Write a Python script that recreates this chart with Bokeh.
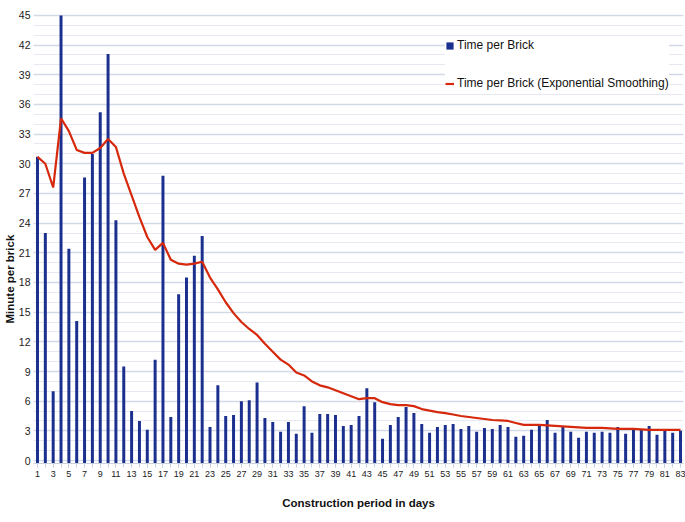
from bokeh.plotting import figure
from bokeh.models import FixedTicker, Range1d, Legend, LegendItem, ColumnDataSource, Title
from bokeh.embed import file_html
from bokeh.resources import INLINE

days = list(range(1, 84))
time_per_brick = [
    30.7, 23.0, 7.0, 45.0, 21.4, 14.1, 28.6, 31.0, 35.2, 41.1,
    24.3, 9.5, 5.0, 4.0, 3.1, 10.2, 28.8, 4.4, 16.8, 18.5,
    20.7, 22.7, 3.4, 7.6, 4.5, 4.6, 6.0, 6.1, 7.9, 4.3,
    3.9, 2.9, 3.9, 2.7, 5.5, 2.8, 4.7, 4.7, 4.6, 3.5,
    3.6, 4.5, 7.3, 5.9, 2.2, 3.6, 4.4, 5.4, 4.8, 3.7,
    2.8, 3.4, 3.6, 3.7, 3.2, 3.5, 2.9, 3.3, 3.2, 3.6,
    3.4, 2.4, 2.5, 3.1, 3.5, 4.1, 2.8, 3.5, 2.9, 2.3,
    2.9, 2.8, 2.9, 2.8, 3.4, 2.7, 3.1, 3.1, 3.5, 2.6,
    3.1, 2.8, 3.0,
]
smoothed = [
    30.7, 30.0, 27.6, 34.6, 33.3, 31.4, 31.1, 31.1, 31.6, 32.5,
    31.7, 29.0, 26.8, 24.6, 22.6, 21.3, 22.0, 20.3, 19.9, 19.8,
    19.9, 20.1, 18.5, 17.3, 16.0, 14.9, 14.0, 13.3, 12.7, 11.8,
    11.0, 10.2, 9.7, 8.9, 8.6, 8.0, 7.6, 7.4, 7.1, 6.8,
    6.5, 6.2, 6.3, 6.3, 5.9, 5.7, 5.6, 5.6, 5.5, 5.2,
    5.05, 4.9, 4.8, 4.65, 4.5, 4.4, 4.3, 4.2, 4.1, 4.05,
    4.0, 3.8, 3.6, 3.6, 3.6, 3.55, 3.5, 3.45, 3.4, 3.35,
    3.3, 3.3, 3.3, 3.25, 3.2, 3.2, 3.2, 3.15, 3.1, 3.1,
    3.1, 3.1, 3.1,
]
x_tick_labels = list(range(1, 84, 2))
y_ticks = list(range(0, 46, 3))

Y_START = -0.3
FONT = "Liberation Sans"

src = ColumnDataSource(dict(day=days, t=time_per_brick, s=smoothed,
                            base=[Y_START] * len(days)))

p = figure(width=685, height=522, output_backend="svg", toolbar_location=None,
           x_range=Range1d(0.49, 83.38), y_range=Range1d(Y_START, 46.0),
           min_border_top=5, min_border_right=2, min_border_left=33,
           min_border_bottom=59)
p.outline_line_color = None
p.background_fill_color = "white"

bars = p.vbar(x="day", top="t", bottom="base", width=0.38, source=src,
              fill_color="#1b2f8e", line_color=None)
line = p.line(x="day", y="s", source=src, line_color="#d6280c", line_width=2.2)

# y axis
p.yaxis.ticker = FixedTicker(ticks=y_ticks, minor_ticks=list(range(0, 46)))
p.yaxis.axis_line_color = None
p.yaxis.major_tick_line_color = None
p.yaxis.minor_tick_line_color = None
p.yaxis.major_tick_out = 0
p.yaxis.major_tick_in = 0
p.yaxis.minor_tick_out = 0
p.yaxis.minor_tick_in = 0
p.yaxis.major_label_text_font = FONT
p.yaxis.major_label_text_font_size = "10.5px"
p.yaxis.major_label_text_color = "#222222"
p.yaxis.major_label_standoff = 3

# y axis title (sits below the frame centre, as in the reference)
ytitle = Title(text="Minute per brick", align="left", offset=140,
               text_font=FONT, text_font_size="11.5px", text_font_style="bold",
               text_color="#111111", standoff=0)
p.add_layout(ytitle, "left")

# x axis
p.xaxis.ticker = FixedTicker(ticks=x_tick_labels, minor_ticks=days)
p.xaxis.axis_line_color = "#c9d0de"
p.xaxis.major_tick_line_color = "#c9d0de"
p.xaxis.minor_tick_line_color = "#c9d0de"
p.xaxis.major_tick_in = 0
p.xaxis.major_tick_out = 4
p.xaxis.minor_tick_in = 0
p.xaxis.minor_tick_out = 4
p.xaxis.major_label_text_font = FONT
p.xaxis.major_label_text_font_size = "9px"
p.xaxis.major_label_text_color = "#222222"
p.xaxis.major_label_standoff = 3
p.xaxis.axis_label = "Construction period in days"
p.xaxis.axis_label_text_font = FONT
p.xaxis.axis_label_text_font_size = "11.5px"
p.xaxis.axis_label_text_font_style = "bold"
p.xaxis.axis_label_text_color = "#111111"
p.xaxis.axis_label_standoff = 17

# grid
p.xgrid.grid_line_color = None
p.ygrid.grid_line_color = "#d3d9e6"
p.ygrid.grid_line_width = 1.5
p.ygrid.minor_grid_line_color = "#e6e9f1"
p.ygrid.minor_grid_line_width = 1

legend = Legend(items=[
    LegendItem(label="Time per Brick", renderers=[bars]),
    LegendItem(label="Time per Brick (Exponential Smoothing)", renderers=[line]),
], location=(412, 373))
legend.margin = 0
legend.padding = 5
legend.spacing = 24
legend.glyph_width = 9
legend.glyph_height = 9
legend.label_height = 14
legend.label_standoff = 3
legend.label_text_font = FONT
legend.label_text_font_size = "12px"
legend.label_text_color = "#111111"
legend.border_line_color = None
legend.background_fill_color = "white"
legend.background_fill_alpha = 1.0
p.add_layout(legend, "center")

open("out.html", "w").write(file_html(p, INLINE))
